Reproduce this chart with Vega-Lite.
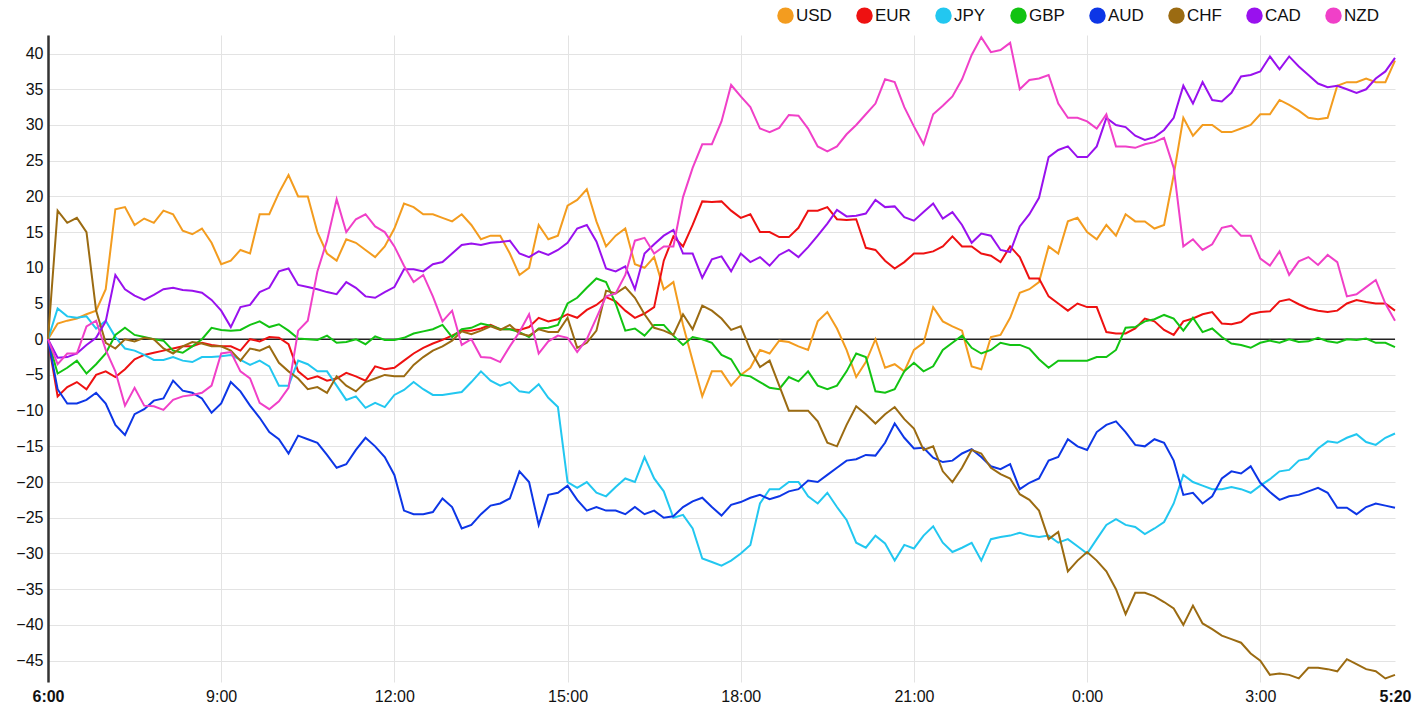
{
"$schema": "https://vega.github.io/schema/vega-lite/v6.json",
"width": 1347,
"height": 647,
"autosize": {"type": "none"},
"padding": {"left": 48, "top": 35, "right": 19, "bottom": 32},
"background": "white",
"config": {"font": "Liberation Sans", "view": {"stroke": null},
"axisY": {"title": null, "values": [-45,-40,-35,-30,-25,-20,-15,-10,-5,0,5,10,15,20,25,30,35,40],
"domain": true, "domainColor": "#333333", "domainWidth": 2.5, "ticks": false, "grid": true, "gridColor": "#e3e3e3",
"labelFontSize": 16, "labelColor": "#111111", "labelPadding": 5, "labelOverlap": false}},
"layer": [
{
"data": {"values": [{"z": 0}]},
"mark": {"type": "rule", "color": "#222222", "strokeWidth": 1.6},
"encoding": {"y": {"field": "z", "type": "quantitative", "scale": {"domain": [-48, 42.6], "nice": false, "zero": false}, "axis": {"title": null}}}
},
{
"data": {"values": [
{"t":0,"USD":0,"EUR":0,"JPY":0,"GBP":0,"AUD":0,"CHF":0,"CAD":0,"NZD":0},
{"t":10,"USD":2.2,"EUR":-8,"JPY":4.3,"GBP":-4.8,"AUD":-7,"CHF":18,"CAD":-2.6,"NZD":-3.5},
{"t":20,"USD":2.6,"EUR":-6.7,"JPY":3.2,"GBP":-4,"AUD":-9,"CHF":16.3,"CAD":-2.5,"NZD":-2},
{"t":30,"USD":2.9,"EUR":-6,"JPY":3,"GBP":-3,"AUD":-9,"CHF":17,"CAD":-2,"NZD":-2},
{"t":40,"USD":3.5,"EUR":-7,"JPY":3.2,"GBP":-4.8,"AUD":-8.5,"CHF":15,"CAD":-0.8,"NZD":1.8},
{"t":50,"USD":4,"EUR":-5,"JPY":1.5,"GBP":-3.5,"AUD":-7.5,"CHF":4,"CAD":0.2,"NZD":2.6},
{"t":60,"USD":7,"EUR":-4.5,"JPY":2.6,"GBP":-2,"AUD":-9,"CHF":-0.5,"CAD":2.5,"NZD":-1.5},
{"t":70,"USD":18.2,"EUR":-5.3,"JPY":0.3,"GBP":0.6,"AUD":-12,"CHF":-1.3,"CAD":9,"NZD":-4.5},
{"t":80,"USD":18.5,"EUR":-4.2,"JPY":-1.3,"GBP":1.6,"AUD":-13.4,"CHF":0,"CAD":7,"NZD":-9.3},
{"t":90,"USD":16,"EUR":-2.8,"JPY":-1.6,"GBP":0.6,"AUD":-10.5,"CHF":-0.3,"CAD":6.1,"NZD":-6.8},
{"t":100,"USD":16.9,"EUR":-2.2,"JPY":-2.2,"GBP":0.3,"AUD":-9.8,"CHF":0.2,"CAD":5.5,"NZD":-9.3},
{"t":110,"USD":16.3,"EUR":-1.9,"JPY":-2.9,"GBP":0,"AUD":-8.6,"CHF":0,"CAD":6.2,"NZD":-9.4},
{"t":120,"USD":18,"EUR":-1.6,"JPY":-2.9,"GBP":-0.2,"AUD":-8.3,"CHF":-1.3,"CAD":7,"NZD":-9.9},
{"t":130,"USD":17.5,"EUR":-1.3,"JPY":-2.5,"GBP":-1.6,"AUD":-5.8,"CHF":-2,"CAD":7.2,"NZD":-8.5},
{"t":140,"USD":15.2,"EUR":-1,"JPY":-3,"GBP":-1.9,"AUD":-7.2,"CHF":-1,"CAD":6.9,"NZD":-8},
{"t":150,"USD":14.7,"EUR":-1,"JPY":-3.2,"GBP":-1,"AUD":-7.5,"CHF":-0.4,"CAD":6.8,"NZD":-7.8},
{"t":160,"USD":15.5,"EUR":-0.5,"JPY":-2.5,"GBP":0,"AUD":-8.3,"CHF":-0.6,"CAD":6.5,"NZD":-7.5},
{"t":170,"USD":13.5,"EUR":-0.8,"JPY":-2.5,"GBP":1.6,"AUD":-10.3,"CHF":-1,"CAD":5.5,"NZD":-6.5},
{"t":180,"USD":10.5,"EUR":-1,"JPY":-2.4,"GBP":1.3,"AUD":-9,"CHF":-1,"CAD":4,"NZD":-2},
{"t":190,"USD":11,"EUR":-1,"JPY":-2.2,"GBP":1.2,"AUD":-6,"CHF":-1.6,"CAD":1.7,"NZD":-1.8},
{"t":200,"USD":12.5,"EUR":-1.6,"JPY":-2.9,"GBP":1.3,"AUD":-7.3,"CHF":-3,"CAD":4.5,"NZD":-4.5},
{"t":210,"USD":12,"EUR":0,"JPY":-3.6,"GBP":2,"AUD":-9.3,"CHF":-1.3,"CAD":4.8,"NZD":-5.5},
{"t":220,"USD":17.5,"EUR":-0.3,"JPY":-3,"GBP":2.5,"AUD":-11,"CHF":-1.6,"CAD":6.6,"NZD":-8.9},
{"t":230,"USD":17.5,"EUR":0.3,"JPY":-3.8,"GBP":1.7,"AUD":-13,"CHF":-1,"CAD":7.2,"NZD":-9.8},
{"t":240,"USD":20.5,"EUR":0.2,"JPY":-6.5,"GBP":2.1,"AUD":-14,"CHF":-3.3,"CAD":9.5,"NZD":-8.7},
{"t":250,"USD":23,"EUR":-0.7,"JPY":-6.5,"GBP":1.2,"AUD":-16,"CHF":-4.5,"CAD":9.9,"NZD":-6.8},
{"t":260,"USD":20,"EUR":-4.5,"JPY":-3,"GBP":0.1,"AUD":-13.5,"CHF":-5.5,"CAD":7.6,"NZD":1.2},
{"t":270,"USD":20,"EUR":-5.6,"JPY":-3.5,"GBP":0,"AUD":-14,"CHF":-7,"CAD":7.3,"NZD":2.6},
{"t":280,"USD":15,"EUR":-5.2,"JPY":-4.5,"GBP":-0.1,"AUD":-14.5,"CHF":-6.7,"CAD":7,"NZD":9.5},
{"t":290,"USD":12,"EUR":-5.8,"JPY":-4.5,"GBP":0.5,"AUD":-16.2,"CHF":-7.5,"CAD":6.6,"NZD":13.8},
{"t":300,"USD":11,"EUR":-5.5,"JPY":-6.5,"GBP":-0.5,"AUD":-18,"CHF":-5.2,"CAD":6.3,"NZD":19.6},
{"t":310,"USD":14,"EUR":-4.7,"JPY":-8.5,"GBP":-0.4,"AUD":-17.5,"CHF":-6.5,"CAD":8,"NZD":15},
{"t":320,"USD":13.5,"EUR":-5.2,"JPY":-8,"GBP":0,"AUD":-15.5,"CHF":-7.3,"CAD":7.2,"NZD":16.8},
{"t":330,"USD":12.5,"EUR":-5.8,"JPY":-9.6,"GBP":-0.7,"AUD":-13.8,"CHF":-6,"CAD":6,"NZD":17.5},
{"t":340,"USD":11.5,"EUR":-3.8,"JPY":-8.9,"GBP":0.4,"AUD":-15,"CHF":-5.5,"CAD":5.8,"NZD":15.8},
{"t":350,"USD":13,"EUR":-4.2,"JPY":-9.5,"GBP":-0.1,"AUD":-16.5,"CHF":-5,"CAD":6.6,"NZD":15},
{"t":360,"USD":15.5,"EUR":-4,"JPY":-7.8,"GBP":-0.1,"AUD":-19,"CHF":-5.2,"CAD":7.3,"NZD":13},
{"t":370,"USD":19,"EUR":-3,"JPY":-7.1,"GBP":0.2,"AUD":-24,"CHF":-5.2,"CAD":9.8,"NZD":10.3},
{"t":380,"USD":18.5,"EUR":-2,"JPY":-6,"GBP":0.8,"AUD":-24.5,"CHF":-3.6,"CAD":9.8,"NZD":8},
{"t":390,"USD":17.5,"EUR":-1.2,"JPY":-7,"GBP":1.1,"AUD":-24.5,"CHF":-2.5,"CAD":9.5,"NZD":9},
{"t":400,"USD":17.5,"EUR":-0.6,"JPY":-7.8,"GBP":1.4,"AUD":-24.2,"CHF":-1.6,"CAD":10.5,"NZD":6},
{"t":410,"USD":17,"EUR":-0.1,"JPY":-7.8,"GBP":2,"AUD":-22.3,"CHF":-1,"CAD":10.8,"NZD":2.5},
{"t":420,"USD":16.5,"EUR":0.5,"JPY":-7.6,"GBP":0.3,"AUD":-23.5,"CHF":-0.2,"CAD":12,"NZD":4},
{"t":430,"USD":17.5,"EUR":1.2,"JPY":-7.4,"GBP":1.4,"AUD":-26.5,"CHF":1.1,"CAD":13.2,"NZD":-0.8},
{"t":440,"USD":16,"EUR":1.2,"JPY":-6,"GBP":1.6,"AUD":-26,"CHF":0.7,"CAD":13.4,"NZD":0},
{"t":450,"USD":14,"EUR":1.5,"JPY":-4.5,"GBP":2.2,"AUD":-24.5,"CHF":1.2,"CAD":13.2,"NZD":-2.5},
{"t":460,"USD":14.5,"EUR":2,"JPY":-5.8,"GBP":1.9,"AUD":-23.3,"CHF":1.8,"CAD":13.5,"NZD":-2.6},
{"t":470,"USD":14.5,"EUR":1.4,"JPY":-6.5,"GBP":1.4,"AUD":-23,"CHF":1.3,"CAD":13.6,"NZD":-3.2},
{"t":480,"USD":12,"EUR":1.4,"JPY":-6,"GBP":1.4,"AUD":-22.3,"CHF":2,"CAD":13.8,"NZD":-1},
{"t":490,"USD":9,"EUR":1.3,"JPY":-7.3,"GBP":1,"AUD":-18.5,"CHF":0.8,"CAD":12,"NZD":1},
{"t":500,"USD":10,"EUR":1.7,"JPY":-7.5,"GBP":0.3,"AUD":-20,"CHF":0.5,"CAD":11.5,"NZD":3.5},
{"t":510,"USD":16,"EUR":3,"JPY":-6.3,"GBP":1.5,"AUD":-26,"CHF":1.4,"CAD":12.3,"NZD":-2},
{"t":520,"USD":14,"EUR":2.5,"JPY":-8.2,"GBP":1.6,"AUD":-21.8,"CHF":1,"CAD":11.8,"NZD":-0.3},
{"t":530,"USD":14.5,"EUR":2.8,"JPY":-9.5,"GBP":2,"AUD":-21.5,"CHF":1,"CAD":12.5,"NZD":0.5},
{"t":540,"USD":18.7,"EUR":3.5,"JPY":-20,"GBP":5,"AUD":-20.5,"CHF":3,"CAD":13.5,"NZD":0.2},
{"t":550,"USD":19.5,"EUR":3,"JPY":-20.8,"GBP":5.8,"AUD":-22.5,"CHF":-1.2,"CAD":15.5,"NZD":-1.8},
{"t":560,"USD":21,"EUR":4.1,"JPY":-20,"GBP":7.2,"AUD":-24,"CHF":-0.5,"CAD":16,"NZD":0},
{"t":570,"USD":16.5,"EUR":4.8,"JPY":-21.5,"GBP":8.5,"AUD":-23.5,"CHF":1.2,"CAD":13.7,"NZD":3},
{"t":580,"USD":13,"EUR":5.9,"JPY":-22,"GBP":8,"AUD":-24,"CHF":6.8,"CAD":9.9,"NZD":6},
{"t":590,"USD":14.5,"EUR":5.3,"JPY":-20.7,"GBP":5,"AUD":-24,"CHF":6.4,"CAD":9.5,"NZD":6.4},
{"t":600,"USD":15.5,"EUR":4,"JPY":-19.5,"GBP":1.2,"AUD":-24.5,"CHF":7.3,"CAD":10.2,"NZD":9},
{"t":610,"USD":10.5,"EUR":3,"JPY":-20,"GBP":1.5,"AUD":-23.5,"CHF":5.8,"CAD":7,"NZD":13.8},
{"t":620,"USD":10,"EUR":3.6,"JPY":-16.5,"GBP":0.5,"AUD":-24.5,"CHF":3.5,"CAD":12,"NZD":14.2},
{"t":630,"USD":11.5,"EUR":4.5,"JPY":-19.5,"GBP":2,"AUD":-24,"CHF":1.6,"CAD":13.3,"NZD":12},
{"t":640,"USD":7,"EUR":11,"JPY":-21.3,"GBP":2,"AUD":-25,"CHF":1.2,"CAD":14.5,"NZD":13},
{"t":650,"USD":8,"EUR":14.4,"JPY":-25,"GBP":0.5,"AUD":-24.8,"CHF":0.6,"CAD":15.3,"NZD":13},
{"t":660,"USD":2,"EUR":13,"JPY":-24.6,"GBP":-0.8,"AUD":-23.5,"CHF":3.5,"CAD":12,"NZD":19.9},
{"t":670,"USD":-3,"EUR":16,"JPY":-26.5,"GBP":0.3,"AUD":-22.7,"CHF":1.4,"CAD":12,"NZD":24},
{"t":680,"USD":-8,"EUR":19.3,"JPY":-30.7,"GBP":0,"AUD":-22.2,"CHF":4.7,"CAD":8.6,"NZD":27.3},
{"t":690,"USD":-4.5,"EUR":19.2,"JPY":-31.2,"GBP":-0.5,"AUD":-23.5,"CHF":4,"CAD":11.2,"NZD":27.3},
{"t":700,"USD":-4.5,"EUR":19.3,"JPY":-31.7,"GBP":-2.2,"AUD":-24.7,"CHF":2.9,"CAD":11.6,"NZD":30.5},
{"t":710,"USD":-6.5,"EUR":18,"JPY":-31,"GBP":-2.8,"AUD":-23.2,"CHF":1.3,"CAD":9.5,"NZD":35.6},
{"t":720,"USD":-5,"EUR":17,"JPY":-30,"GBP":-5,"AUD":-22.8,"CHF":1.8,"CAD":12,"NZD":34},
{"t":730,"USD":-4,"EUR":17.5,"JPY":-28.8,"GBP":-5.2,"AUD":-22.2,"CHF":-1.5,"CAD":10.8,"NZD":32.5},
{"t":740,"USD":-1.5,"EUR":15,"JPY":-23,"GBP":-6,"AUD":-21.8,"CHF":-3.9,"CAD":11.5,"NZD":29.5},
{"t":750,"USD":-2,"EUR":15,"JPY":-21,"GBP":-6.8,"AUD":-22.4,"CHF":-3,"CAD":10.3,"NZD":29},
{"t":760,"USD":-0.2,"EUR":14.3,"JPY":-21,"GBP":-7,"AUD":-22,"CHF":-6.5,"CAD":11.8,"NZD":29.6},
{"t":770,"USD":-0.4,"EUR":14.3,"JPY":-20,"GBP":-5.3,"AUD":-21.3,"CHF":-10,"CAD":12.5,"NZD":31.4},
{"t":780,"USD":-1,"EUR":15.6,"JPY":-20,"GBP":-5.9,"AUD":-21,"CHF":-10,"CAD":11.5,"NZD":31.3},
{"t":790,"USD":-1.5,"EUR":18,"JPY":-22,"GBP":-4.5,"AUD":-19.8,"CHF":-10,"CAD":12.9,"NZD":29.5},
{"t":800,"USD":2.5,"EUR":18,"JPY":-23,"GBP":-6.5,"AUD":-20,"CHF":-11.5,"CAD":14.5,"NZD":27},
{"t":810,"USD":3.8,"EUR":18.5,"JPY":-21.5,"GBP":-7,"AUD":-19,"CHF":-14.5,"CAD":16.2,"NZD":26.3},
{"t":820,"USD":1.5,"EUR":16.8,"JPY":-23.5,"GBP":-6.5,"AUD":-18,"CHF":-15,"CAD":18.1,"NZD":27},
{"t":830,"USD":-1.5,"EUR":16.7,"JPY":-25.3,"GBP":-4.5,"AUD":-17,"CHF":-12,"CAD":17.2,"NZD":28.7},
{"t":840,"USD":-5.3,"EUR":16.8,"JPY":-28.5,"GBP":-2,"AUD":-16.8,"CHF":-9.4,"CAD":17.3,"NZD":30},
{"t":850,"USD":-3.2,"EUR":12.8,"JPY":-29.2,"GBP":-2.5,"AUD":-16.2,"CHF":-10.5,"CAD":17.6,"NZD":31.5},
{"t":860,"USD":0,"EUR":12.5,"JPY":-27.5,"GBP":-7.3,"AUD":-16.3,"CHF":-11.8,"CAD":19.5,"NZD":33},
{"t":870,"USD":-4,"EUR":11,"JPY":-28.6,"GBP":-7.5,"AUD":-14.5,"CHF":-10.5,"CAD":18.5,"NZD":36.4},
{"t":880,"USD":-3.5,"EUR":9.9,"JPY":-31,"GBP":-7,"AUD":-11.8,"CHF":-9.5,"CAD":18.6,"NZD":36},
{"t":890,"USD":-4.5,"EUR":10.8,"JPY":-28.8,"GBP":-4.5,"AUD":-13.8,"CHF":-11.2,"CAD":17.1,"NZD":32.5},
{"t":900,"USD":-1.5,"EUR":12,"JPY":-29.3,"GBP":-3.3,"AUD":-15.3,"CHF":-12.5,"CAD":16.6,"NZD":29.8},
{"t":910,"USD":-0.5,"EUR":12,"JPY":-27.5,"GBP":-4.5,"AUD":-15.2,"CHF":-15.5,"CAD":17.8,"NZD":27.3},
{"t":920,"USD":4.5,"EUR":12.3,"JPY":-26.2,"GBP":-3.8,"AUD":-16.6,"CHF":-15,"CAD":19,"NZD":31.5},
{"t":930,"USD":2.5,"EUR":13,"JPY":-28.5,"GBP":-1.5,"AUD":-17.2,"CHF":-18.5,"CAD":16.9,"NZD":32.7},
{"t":940,"USD":1.8,"EUR":14.4,"JPY":-29.8,"GBP":-0.5,"AUD":-17,"CHF":-20,"CAD":17.8,"NZD":34},
{"t":950,"USD":1.2,"EUR":13,"JPY":-29.2,"GBP":0.5,"AUD":-16,"CHF":-18,"CAD":16,"NZD":36.4},
{"t":960,"USD":-3.8,"EUR":13,"JPY":-28.5,"GBP":-1.2,"AUD":-15.4,"CHF":-15.5,"CAD":13.5,"NZD":39.8},
{"t":970,"USD":-4.2,"EUR":12,"JPY":-31,"GBP":-2,"AUD":-16.5,"CHF":-16,"CAD":14.8,"NZD":42.3},
{"t":980,"USD":0.3,"EUR":11.7,"JPY":-28,"GBP":-1.5,"AUD":-17.8,"CHF":-18,"CAD":14.5,"NZD":40.2},
{"t":990,"USD":0.6,"EUR":10.8,"JPY":-27.7,"GBP":-0.5,"AUD":-18.2,"CHF":-18.9,"CAD":12.5,"NZD":40.5},
{"t":1000,"USD":3,"EUR":13,"JPY":-27.5,"GBP":-0.8,"AUD":-17.5,"CHF":-19.5,"CAD":12.2,"NZD":41.5},
{"t":1010,"USD":6.5,"EUR":11.5,"JPY":-27.1,"GBP":-0.8,"AUD":-21,"CHF":-21.7,"CAD":15.8,"NZD":35},
{"t":1020,"USD":7,"EUR":8.5,"JPY":-27.5,"GBP":-1.3,"AUD":-20.1,"CHF":-22.5,"CAD":17.5,"NZD":36.3},
{"t":1030,"USD":8,"EUR":8.5,"JPY":-27.7,"GBP":-2.8,"AUD":-19.5,"CHF":-24,"CAD":19.8,"NZD":36.5},
{"t":1040,"USD":13,"EUR":6,"JPY":-27.5,"GBP":-4,"AUD":-17,"CHF":-28,"CAD":25.5,"NZD":37},
{"t":1050,"USD":12,"EUR":5,"JPY":-28.5,"GBP":-3,"AUD":-16.5,"CHF":-27,"CAD":26.5,"NZD":33},
{"t":1060,"USD":16.5,"EUR":4,"JPY":-28,"GBP":-3,"AUD":-14,"CHF":-32.5,"CAD":27,"NZD":31},
{"t":1070,"USD":17,"EUR":5,"JPY":-29,"GBP":-3,"AUD":-15,"CHF":-31,"CAD":25.5,"NZD":31},
{"t":1080,"USD":15,"EUR":4.5,"JPY":-30,"GBP":-3,"AUD":-15.5,"CHF":-29.8,"CAD":25.5,"NZD":30.5},
{"t":1090,"USD":14,"EUR":4.5,"JPY":-28,"GBP":-2.5,"AUD":-13,"CHF":-31,"CAD":27,"NZD":29.5},
{"t":1100,"USD":16,"EUR":1,"JPY":-26,"GBP":-2.5,"AUD":-12,"CHF":-32.5,"CAD":31,"NZD":31.5},
{"t":1110,"USD":14.5,"EUR":0.8,"JPY":-25.2,"GBP":-1.5,"AUD":-11.5,"CHF":-35,"CAD":30,"NZD":27},
{"t":1120,"USD":17.5,"EUR":0.8,"JPY":-26,"GBP":1.6,"AUD":-13,"CHF":-38.5,"CAD":29.7,"NZD":27},
{"t":1130,"USD":16.5,"EUR":1.5,"JPY":-26.3,"GBP":1.7,"AUD":-14.8,"CHF":-35.5,"CAD":28.5,"NZD":26.8},
{"t":1140,"USD":16.5,"EUR":2.9,"JPY":-27.3,"GBP":2.5,"AUD":-15,"CHF":-35.5,"CAD":27.9,"NZD":27.3},
{"t":1150,"USD":15.5,"EUR":2.5,"JPY":-26.5,"GBP":2.8,"AUD":-14,"CHF":-36,"CAD":28.3,"NZD":27.6},
{"t":1160,"USD":16,"EUR":1.3,"JPY":-25.6,"GBP":3.4,"AUD":-14.5,"CHF":-36.8,"CAD":29.3,"NZD":28.2},
{"t":1170,"USD":23,"EUR":0.6,"JPY":-23,"GBP":2.9,"AUD":-17,"CHF":-37.7,"CAD":31,"NZD":24},
{"t":1180,"USD":31,"EUR":2.5,"JPY":-19,"GBP":1.2,"AUD":-21.8,"CHF":-40,"CAD":35.5,"NZD":13},
{"t":1190,"USD":28.5,"EUR":2.9,"JPY":-20,"GBP":3,"AUD":-21.5,"CHF":-37.3,"CAD":33,"NZD":14},
{"t":1200,"USD":30,"EUR":3.5,"JPY":-20.5,"GBP":1,"AUD":-23,"CHF":-39.8,"CAD":36,"NZD":12.5},
{"t":1210,"USD":30,"EUR":3.8,"JPY":-21,"GBP":1.5,"AUD":-22,"CHF":-40.6,"CAD":33.5,"NZD":13.3},
{"t":1220,"USD":29,"EUR":2.2,"JPY":-21,"GBP":0.3,"AUD":-19.5,"CHF":-41.5,"CAD":33.3,"NZD":15.6},
{"t":1230,"USD":29,"EUR":2.1,"JPY":-20.7,"GBP":-0.6,"AUD":-18.5,"CHF":-42,"CAD":34.5,"NZD":15.9},
{"t":1240,"USD":29.5,"EUR":2.4,"JPY":-21,"GBP":-0.8,"AUD":-18.8,"CHF":-42.5,"CAD":36.8,"NZD":14.5},
{"t":1250,"USD":30,"EUR":3.5,"JPY":-21.5,"GBP":-1.2,"AUD":-17.8,"CHF":-44,"CAD":37,"NZD":14.5},
{"t":1260,"USD":31.5,"EUR":3.8,"JPY":-20.5,"GBP":-0.5,"AUD":-20.1,"CHF":-45,"CAD":37.5,"NZD":11.3},
{"t":1270,"USD":31.5,"EUR":3.9,"JPY":-19.6,"GBP":-0.2,"AUD":-21.4,"CHF":-47,"CAD":39.6,"NZD":10.3},
{"t":1280,"USD":33.5,"EUR":5.3,"JPY":-18.5,"GBP":-0.5,"AUD":-22.5,"CHF":-46.8,"CAD":37.8,"NZD":12.3},
{"t":1290,"USD":32.8,"EUR":5.6,"JPY":-18.3,"GBP":0,"AUD":-22,"CHF":-47,"CAD":39.6,"NZD":9},
{"t":1300,"USD":32,"EUR":4.9,"JPY":-17,"GBP":-0.4,"AUD":-21.8,"CHF":-47.5,"CAD":38.2,"NZD":10.9},
{"t":1310,"USD":31,"EUR":4.3,"JPY":-16.7,"GBP":-0.3,"AUD":-21.3,"CHF":-46,"CAD":37,"NZD":11.5},
{"t":1320,"USD":30.8,"EUR":4,"JPY":-15.3,"GBP":0.2,"AUD":-20.8,"CHF":-46,"CAD":35.8,"NZD":10.4},
{"t":1330,"USD":31,"EUR":3.8,"JPY":-14.3,"GBP":-0.3,"AUD":-21.5,"CHF":-46.2,"CAD":35.3,"NZD":11.8},
{"t":1340,"USD":35.5,"EUR":4,"JPY":-14.5,"GBP":-0.5,"AUD":-23.6,"CHF":-46.5,"CAD":35.5,"NZD":10.8},
{"t":1350,"USD":36,"EUR":5,"JPY":-13.8,"GBP":0,"AUD":-23.6,"CHF":-44.8,"CAD":35,"NZD":6},
{"t":1360,"USD":36,"EUR":5.5,"JPY":-13.3,"GBP":-0.1,"AUD":-24.5,"CHF":-45.5,"CAD":34.5,"NZD":6.3},
{"t":1370,"USD":36.5,"EUR":5.2,"JPY":-14.4,"GBP":0.1,"AUD":-23.5,"CHF":-46.2,"CAD":35,"NZD":7.3},
{"t":1380,"USD":36,"EUR":5,"JPY":-14.8,"GBP":-0.5,"AUD":-23,"CHF":-46.5,"CAD":36.5,"NZD":8.3},
{"t":1390,"USD":36,"EUR":5,"JPY":-13.8,"GBP":-0.5,"AUD":-23.3,"CHF":-47.5,"CAD":37.5,"NZD":5},
{"t":1400,"USD":39,"EUR":4,"JPY":-13.2,"GBP":-1.1,"AUD":-23.6,"CHF":-47,"CAD":39.4,"NZD":2.6}
]},
"transform": [{"fold": ["USD","EUR","JPY","GBP","AUD","CHF","CAD","NZD"], "as": ["cur","val"]}],
"mark": {"type": "line", "strokeWidth": 2, "interpolate": "linear"},
"encoding": {
"x": {"field": "t", "type": "quantitative",
"scale": {"domain": [0, 1400], "nice": false, "zero": false},
"axis": {"title": null, "values": [0,180,360,540,720,900,1080,1260,1400],
"labelExpr": "((floor(datum.value/60)+6)%24) + ':' + (datum.value%60 < 10 ? '0' : '') + (datum.value%60)",
"domain": false, "ticks": false, "grid": true,
"gridColor": {"condition": {"test": "datum.value == 1400", "value": "transparent"}, "value": "#e3e3e3"},
"labelFontSize": 16, "labelColor": "#111111", "labelFlush": false, "labelOverlap": false, "labelPadding": 6,
"labelFontWeight": {"condition": {"test": "datum.value == 0 || datum.value == 1400", "value": "bold"}, "value": "normal"}}},
"y": {"field": "val", "type": "quantitative",
"scale": {"domain": [-48, 42.6], "nice": false, "zero": false},
"axis": {"title": null}},
"color": {"field": "cur", "type": "nominal",
"scale": {"domain": ["USD","EUR","JPY","GBP","AUD","CHF","CAD","NZD"],
"range": ["#f39c1f","#ee1111","#22c7f0","#12c312","#0d36e6","#9b6b12","#9911ee","#f040c8"]},
"legend": {"title": null, "orient": "none", "legendX": 729, "legendY": -28, "direction": "horizontal",
"padding": 0, "columnPadding": 24, "labelFontSize": 17, "labelColor": "#111111", "labelOffset": 2,
"symbolType": "circle", "symbolSize": 270,
"encode": {"symbols": {"update": {"fill": {"scale": "color", "field": "value"}, "stroke": {"value": "transparent"}, "strokeWidth": {"value": 0}, "shape": {"value": "circle"}, "size": {"value": 270}, "opacity": {"value": 1}}}}}}
}
}
]
}
